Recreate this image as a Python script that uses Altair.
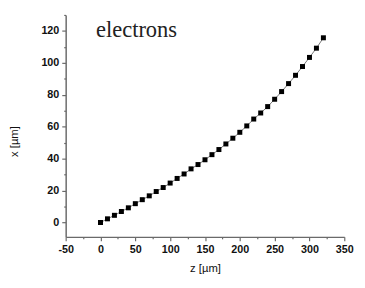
import altair as alt
import pandas as pd

z_um = [0, 10, 20, 30, 40, 50, 60, 70, 80, 90, 100, 110, 120, 130, 140, 150,
        160, 170, 180, 190, 200, 210, 220, 230, 240, 250, 260, 270, 280, 290,
        300, 310, 320]
x_um = [0, 2.3, 4.5, 6.9, 9.2, 11.8, 14.3, 16.7, 19.4, 21.9, 24.7, 27.6, 30.4,
        33.6, 36.3, 39.3, 42.5, 45.7, 49.2, 52.8, 56.5, 60.5, 64.8, 68.6, 72.6,
        77.2, 82.0, 87.0, 92.2, 97.7, 103.4, 109.2, 115.7]
x_ticks = list(range(-50, 351, 25))
y_ticks = list(range(0, 131, 10))
label_text = ["electrons"]

df = pd.DataFrame({"z": z_um, "x": x_um})

axis_color = "#6a6a6a"
common = dict(
    domainColor=axis_color, domainWidth=1.5, tickColor=axis_color, tickWidth=1.2,
    labelFont="Liberation Sans", labelFontSize=11, labelFontWeight="bold",
    labelColor="#111", titleFont="Liberation Sans", titleFontSize=11.5,
    titleFontWeight="normal", titleColor="#111", grid=False,
    labelOverlap=False, labelFlush=False, labelExpr="datum.value + ''",
)

xaxis = alt.Axis(
    values=x_ticks, title="z [µm]",
    labelOpacity={"condition": {"test": "datum.value % 50 === 0", "value": 1}, "value": 0},
    tickSize={"condition": {"test": "datum.value % 50 === 0", "value": 4}, "value": 2},
    labelPadding=3, titlePadding=8, **common)
yaxis = alt.Axis(
    values=y_ticks, title="x [µm]",
    labelOpacity={"condition": {"test": "datum.value % 20 === 0", "value": 1}, "value": 0},
    tickSize={"condition": {"test": "datum.value % 20 === 0", "value": 4}, "value": 2},
    labelPadding=3, titleX=-47, titleY=129, **common)

xs = alt.Scale(domain=[-50, 350], nice=False, zero=False)
ys = alt.Scale(domain=[-9, 130], nice=False, zero=False)

base = alt.Chart(df)
enc = dict(
    x=alt.X("z:Q", scale=xs, axis=xaxis),
    y=alt.Y("x:Q", scale=ys, axis=yaxis),
)
line = base.mark_line(color="#777777", strokeWidth=1).encode(**enc)
pts = base.mark_square(size=26, color="black", opacity=1).encode(**enc)
txt = alt.Chart(pd.DataFrame({"t": label_text})).mark_text(
    font="Liberation Serif", fontSize=23, align="left", baseline="alphabetic",
    color="#222"
).encode(text="t:N", x=alt.value(31), y=alt.value(23))

chart = alt.layer(line, pts, txt).properties(
    width=285, height=227,
    autosize=alt.AutoSizeParams(type="none"),
    padding={"left": 59, "top": 4, "right": 13, "bottom": 41},
).configure_view(stroke=None).configure_axis(labelOverlap=False)

chart.save("out.html", embed_options={"renderer": "svg", "actions": False})
